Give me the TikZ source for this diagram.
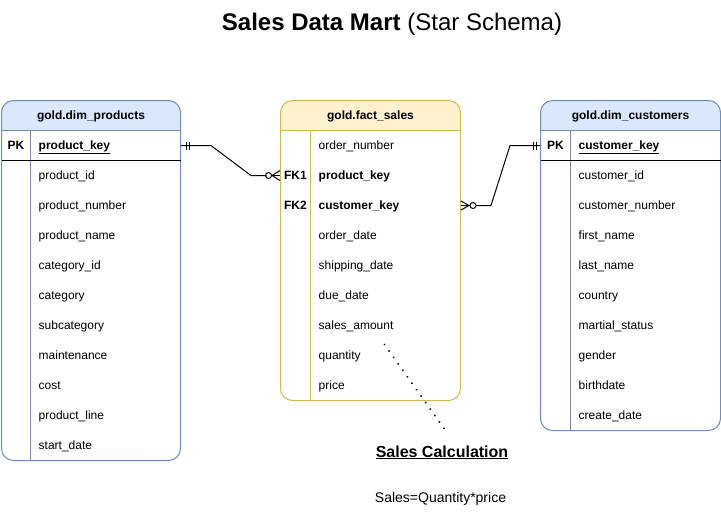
\documentclass[tikz,border=0pt]{standalone}
\usepackage{fontspec}
\setmainfont{Liberation Sans}
\begin{document}
\begin{tikzpicture}[x=1pt,y=-1pt,
  cell/.style={anchor=base west,inner sep=0pt,font=\fontsize{12}{14}\selectfont},
  keycell/.style={cell,font=\fontsize{12}{14}\selectfont\bfseries},
  hdr/.style={anchor=base,inner sep=0pt,font=\fontsize{12}{14}\selectfont\bfseries},
  frame/.style={rectangle,inner sep=0pt,rounded corners=12pt,line width=1pt},
  conn/.style={line width=1pt,black},
  dotline/.style={line width=2.1pt,dash pattern=on 0.01pt off 7.9pt,line cap=round}]
\definecolor{bluef}{HTML}{DAE8FC}
\definecolor{blueb}{HTML}{6C8EBF}
\definecolor{yelf}{HTML}{FFF2CC}
\definecolor{yelb}{HTML}{D6B656}
\useasboundingbox (0,0) rectangle (721,515);
\begin{scope}[shift={(0.5,0.5)}]

% title
\node[anchor=base,inner sep=0pt,font=\fontsize{24}{28}\selectfont] (title) at (391.5,30)
  {\bfseries Sales Data Mart \mdseries(Star Schema)};

% ---------- dim_products ----------
\begin{scope}
\clip (0,99) rectangle (181,130);
\fill[bluef,rounded corners=12pt] (1,100) rectangle (180,460);
\end{scope}
\node[frame,draw=blueb,minimum width=179pt,minimum height=360pt] (prod) at (90.5,280) {};
\draw[blueb,line width=1pt] (1,130) -- (180,130);
\draw[blueb,line width=1pt] (30,130) -- (30,460);
\draw[black,line width=1pt] (1,160) -- (180,160);
\node[hdr] (prodh) at (90.5,119) {gold.dim\_products};
\node[keycell,anchor=base] (prodpk) at (15.5,149) {PK};
\node[keycell] (p0) at (38,149) {\underline{product\_key}};
\foreach \t [count=\i] in {product\_id,product\_number,product\_name,category\_id,category,subcategory,maintenance,cost,product\_line,start\_date}
  \node[cell] (p\i) at (38,149+30*\i) {\t};

% ---------- fact_sales ----------
\begin{scope}
\clip (279,99) rectangle (461,130);
\fill[yelf,rounded corners=12pt] (280,100) rectangle (460,400);
\end{scope}
\node[frame,draw=yelb,minimum width=180pt,minimum height=300pt] (fact) at (370,250) {};
\draw[yelb,line width=1pt] (280,130) -- (460,130);
\draw[yelb,line width=1pt] (310,130) -- (310,400);
\node[hdr] (facth) at (370,119) {gold.fact\_sales};
\node[keycell,anchor=base] (fk1) at (295,179) {FK1};
\node[keycell,anchor=base] (fk2) at (295,209) {FK2};
\node[cell] (f0) at (318,149) {order\_number};
\node[keycell] (f1) at (318,179) {product\_key};
\node[keycell] (f2) at (318,209) {customer\_key};
\foreach \t [count=\i from 3] in {order\_date,shipping\_date,due\_date,sales\_amount,quantity,price}
  \node[cell] (f\i) at (318,149+30*\i) {\t};

% ---------- dim_customers ----------
\begin{scope}
\clip (539,99) rectangle (721,130);
\fill[bluef,rounded corners=12pt] (540,100) rectangle (720,430);
\end{scope}
\node[frame,draw=blueb,minimum width=180pt,minimum height=330pt] (cust) at (630,265) {};
\draw[blueb,line width=1pt] (540,130) -- (720,130);
\draw[blueb,line width=1pt] (570,130) -- (570,430);
\draw[black,line width=1pt] (540,160) -- (720,160);
\node[hdr] (custh) at (630,119) {gold.dim\_customers};
\node[keycell,anchor=base] (custpk) at (555,149) {PK};
\node[keycell] (c0) at (578,149) {\underline{customer\_key}};
\foreach \t [count=\i] in {customer\_id,customer\_number,first\_name,last\_name,country,martial\_status,gender,birthdate,create\_date}
  \node[cell] (c\i) at (578,149+30*\i) {\t};

% ---------- connectors ----------
\coordinate (pa) at (prod.east |- 0,145);
\coordinate (fa) at (fact.west |- 0,175);
\coordinate (fb) at (fact.east |- 0,205);
\coordinate (ca) at (cust.west |- 0,145);

% products (one) -> fact (zero or many)
\draw[conn] (pa) -- ++(30,0) -- ++(40,30) -- ++(15.5,0);
\draw[conn] ([xshift=5pt,yshift=4pt]pa) -- ++(0,8);
\draw[conn] ([xshift=8pt,yshift=4pt]pa) -- ++(0,8);
\draw[conn] ([xshift=-11.5pt]fa) circle (3pt);
\draw[conn] ([xshift=-8.5pt]fa) -- (fa);
\draw[conn] ([xshift=-8pt]fa) -- ([yshift=-5pt]fa);
\draw[conn] ([xshift=-8pt]fa) -- ([yshift=5pt]fa);

% fact (zero or many) -> customers (one)
\draw[conn] ([xshift=15pt]fb) -- ([xshift=30pt]fb) -- ([xshift=-30pt]ca) -- (ca);
\draw[conn] ([xshift=12pt]fb) circle (3pt);
\draw[conn] (fb) -- ([xshift=9pt]fb);
\draw[conn] ([yshift=-4.5pt]fb) -- ([xshift=8pt]fb);
\draw[conn] ([yshift=4.5pt]fb) -- ([xshift=8pt]fb);
\draw[conn] ([xshift=-7pt,yshift=4pt]ca) -- ++(0,8);
\draw[conn] ([xshift=-4pt,yshift=4pt]ca) -- ++(0,8);

% ---------- note ----------
\node[anchor=base,inner sep=0pt,font=\fontsize{16}{19}\selectfont\bfseries] (calc) at (441.5,456.5) {\underline{Sales Calculation}};
\node[anchor=base,inner sep=0pt,font=\fontsize{14}{17}\selectfont] (formula) at (440,502) {Sales=Quantity*price};
\coordinate (dA) at (384,344);
\coordinate (dB) at (445,430);
\draw[dotline] (dA) -- (dB);
\end{scope}
\end{tikzpicture}
\end{document}
